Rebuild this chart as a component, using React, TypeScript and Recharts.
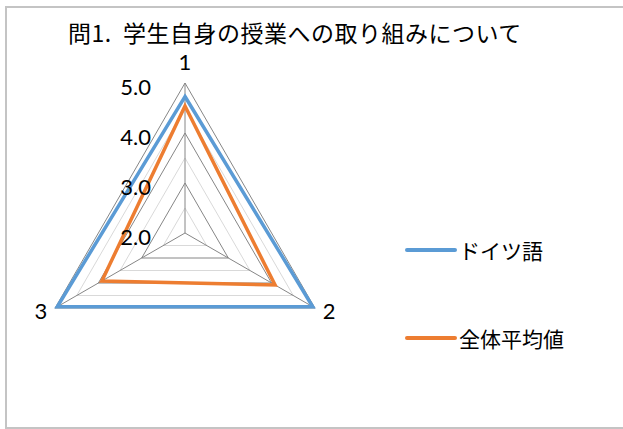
import React from 'react';
import { RadarChart, Radar, PolarGrid, PolarAngleAxis, PolarRadiusAxis, Legend } from 'recharts';

const items = ['1', '2', '3'];
const german = [4.73, 4.95, 4.95];
const overall = [4.54, 4.08, 3.92];
const majorTicks = [2, 3, 4, 5];
const minorTicks = [2.5, 3.5, 4.5];
const title = '問1.  学生自身の授業への取り組みについて';

const data = items.map((item, i) => ({ item, german: german[i], overall: overall[i] }));

// radius scale shared by the chart and the light half-step rings
const domainMin = 2;
const domainMax = 5;
const outerR = 150;
const toR = (v: number) => ((v - domainMin) / (domainMax - domainMin)) * outerR;

const RadiusTick = ({ x, y, payload }: any) => (
  <text x={x - 34} y={y + 3} textAnchor="end" dominantBaseline="central" fontSize={22} fontFamily="Lato" fill="#000">
    {Number(payload.value).toFixed(1)}
  </text>
);

const AngleTick = ({ x, y, payload, textAnchor }: any) => (
  <text
    x={textAnchor === 'start' ? x + 1 : textAnchor === 'end' ? x - 1 : x}
    y={textAnchor === 'middle' ? y - 14 : y - 2}
    textAnchor={textAnchor}
    dominantBaseline="central"
    fontSize={22}
    fontFamily="Lato"
    fill="#000"
  >
    {payload.value}
  </text>
);

const renderLegend = (props: any) => (
  <div>
    {props.payload.map((entry: any) => (
      <div key={entry.value} style={{ display: 'flex', alignItems: 'center', height: 88 }}>
        <div style={{ width: 52, height: 4, background: entry.color, borderRadius: 2 }} />
        <span style={{ marginLeft: 2, fontSize: 21, fontFamily: 'Noto Sans CJK JP', color: '#000' }}>{entry.value}</span>
      </div>
    ))}
  </div>
);

export default function App() {
  return (
    <div style={{ position: 'absolute', left: 0, top: 0, width: 623, height: 429, background: '#fff', overflow: 'hidden' }}>
      <div
        style={{
          position: 'absolute',
          left: 5,
          top: 6,
          width: 620,
          height: 419,
          border: '2px solid #c4c4c4',
        }}
      />
      <div
        style={{
          position: 'absolute',
          left: 68,
          top: 22,
          fontSize: 23,
          lineHeight: '20px',
          letterSpacing: 0.5,
          fontFamily: 'Noto Sans CJK JP',
          whiteSpace: 'pre',
          color: '#000',
        }}
      >
        {title}
      </div>
      <div style={{ position: 'absolute', left: 0, top: 0 }}>
        <RadarChart width={623} height={429} data={data} cx={185} cy={233} outerRadius={outerR}>
          <PolarGrid gridType="polygon" radialLines={false} polarRadius={minorTicks.map(toR)} stroke="#d9d9d9" />
          <PolarGrid gridType="polygon" stroke="#868686" />
          <PolarAngleAxis dataKey="item" tick={AngleTick} tickLine={false} axisLine={false} />
          <PolarRadiusAxis angle={90} domain={[domainMin, domainMax]} ticks={majorTicks} tick={RadiusTick} axisLine={false} />
          <Radar
            name="ドイツ語"
            dataKey="german"
            stroke="#5B9BD5"
            strokeWidth={3.5}
            fill="none"
            fillOpacity={0}
            dot={false}
            isAnimationActive={false}
          />
          <Radar
            name="全体平均値"
            dataKey="overall"
            stroke="#ED7D31"
            strokeWidth={3.5}
            fill="none"
            fillOpacity={0}
            dot={false}
            isAnimationActive={false}
          />
          <Legend
            layout="vertical"
            content={renderLegend}
            wrapperStyle={{ position: 'absolute', left: 405, top: 206, width: 210 }}
          />
        </RadarChart>
      </div>
    </div>
  );
}
